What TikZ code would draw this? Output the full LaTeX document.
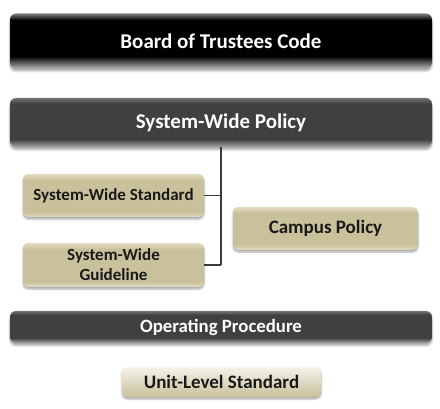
\documentclass[tikz,border=0pt]{standalone}
\usepackage{fontspec}
\setmainfont{Carlito}
\usetikzlibrary{positioning,calc,shadows.blur}
\usepackage{xcolor}

\definecolor{tanDark}{HTML}{C9C19B}
\definecolor{tanLight}{HTML}{E2DCC4}
\definecolor{tanPale}{HTML}{F4F2EB}
\definecolor{lineGray}{HTML}{3A3A3A}

\pgfdeclareverticalshading{boardShade}{100bp}{color(0bp)=(black!30); color(25bp)=(black!30); color(36bp)=(black); color(69bp)=(black); color(75bp)=(black!50); color(100bp)=(black!50)}
\pgfdeclareverticalshading{policyShade}{100bp}{color(0bp)=(black!35); color(25bp)=(black!35); color(33bp)=(black!75); color(69bp)=(black!75); color(75bp)=(black!55); color(100bp)=(black!55)}
\pgfdeclareverticalshading{tanShade}{100bp}{color(0bp)=(tanLight); color(25bp)=(tanLight); color(31bp)=(tanDark); color(68bp)=(tanDark); color(75bp)=(tanLight); color(100bp)=(tanLight)}
\pgfdeclareverticalshading{unitShade}{100bp}{color(0bp)=(tanDark); color(25bp)=(tanDark); color(75bp)=(tanPale); color(100bp)=(tanPale)}

\tikzstyle{bar} = [
    rectangle,
    rounded corners=6pt,
    minimum width=422pt,
    text=white,
    font=\bfseries,
    blur shadow={shadow xshift=0pt, shadow yshift=-2.5pt, shadow blur steps=6, shadow opacity=35}
]
\tikzstyle{tanbox} = [
    rectangle,
    rounded corners=5pt,
    shading=tanShade,
    align=center,
    font=\bfseries\fontsize{17}{20}\selectfont,
    text=black!90,
    blur shadow={shadow xshift=0pt, shadow yshift=-2pt, shadow blur steps=5, shadow opacity=35}
]

\begin{document}
\begin{tikzpicture}[
    x=1pt, y=-1pt,
    connector/.style={draw=lineGray, line width=1.6pt}
]
\useasboundingbox (0,0) rectangle (440,409);

% Top bars
\node[bar, shading=boardShade, minimum height=55pt, font=\bfseries\fontsize{21}{24}\selectfont]
    (board) at (221,41) {Board of Trustees Code};
\node[bar, shading=policyShade, minimum height=49pt, font=\bfseries\fontsize{21}{24}\selectfont]
    (swpolicy) at (221,122.5) {System-Wide Policy};

% Branch boxes
\node[tanbox, minimum width=181pt, minimum height=43pt] (standard) at (113.5,195.5) {System-Wide Standard};
\node[tanbox, minimum width=181pt, minimum height=44pt] (guideline) at (113.5,265) {System-Wide\\Guideline};
\node[tanbox, minimum width=185pt, minimum height=43pt, font=\bfseries\fontsize{19}{22}\selectfont]
    (campus) at (325.5,228.5) {Campus Policy};

% Bottom boxes
\node[bar, shading=policyShade, minimum height=32pt, font=\bfseries\fontsize{18.8}{22}\selectfont]
    (operating) at (221,327) {Operating Procedure};
\node[tanbox, shading=unitShade, minimum width=199pt, minimum height=30pt, font=\bfseries\fontsize{19}{22}\selectfont]
    (unit) at (221.5,382) {Unit-Level Standard};

% Connectors
\draw[connector] (swpolicy.south) -- (swpolicy.south |- guideline.east);
\draw[connector] (standard.east) -- (standard.east -| swpolicy.south);
\draw[connector] (guideline.east) -- (guideline.east -| swpolicy.south);

\end{tikzpicture}
\end{document}
